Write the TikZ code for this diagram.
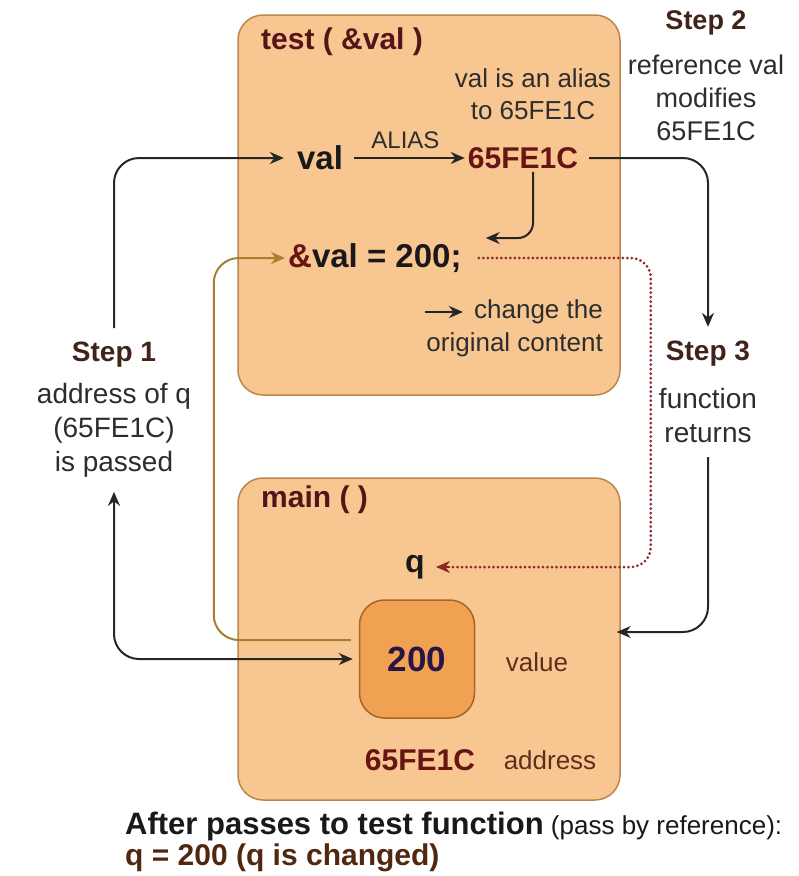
\documentclass[tikz,border=0pt]{standalone}
\usepackage{fontspec}
\setmainfont{Liberation Sans}
\usepackage{xcolor}
\usetikzlibrary{positioning,calc,arrows.meta}

\definecolor{boxfill}{RGB}{248,199,145}
\definecolor{boxline}{RGB}{185,135,75}
\definecolor{cellfill}{RGB}{240,162,82}
\definecolor{cellline}{RGB}{165,100,40}
\definecolor{titlered}{RGB}{85,20,25}
\definecolor{addrred}{RGB}{105,20,20}
\definecolor{stepbrown}{RGB}{65,35,25}
\definecolor{notegray}{RGB}{45,45,45}
\definecolor{goldline}{RGB}{165,128,45}
\definecolor{dotred}{RGB}{140,40,40}
\definecolor{numblue}{RGB}{40,20,70}
\definecolor{labbrown}{RGB}{95,45,30}
\definecolor{qbrown}{RGB}{80,40,15}

\newcommand{\txtsize}[2]{\fontsize{#1}{#2}\selectfont}
\newcommand{\steptitle}[1]{{\bfseries\color{stepbrown}#1}}

\begin{document}
\begin{tikzpicture}[x=1pt,y=-1pt,
  >={Stealth[length=14pt,width=12pt]},
  funcbox/.style={draw=boxline,fill=boxfill,line width=1.5pt,rounded corners=25pt,minimum width=382pt,inner sep=0pt},
  cellbox/.style={draw=cellline,fill=cellfill,line width=1.5pt,rounded corners=25pt,minimum width=115pt,minimum height=118pt,
    text=numblue,font=\bfseries\txtsize{35}{40}},
  boxtitle/.style={text=titlered,font=\bfseries\txtsize{30}{36},inner sep=3pt},
  code/.style={text=black!90,font=\bfseries\txtsize{33}{40},inner sep=3pt},
  note/.style={text=notegray,font=\txtsize{26}{32},inner sep=3pt},
  stepnote/.style={text=notegray,font=\txtsize{28}{34},align=center,inner xsep=3pt,inner ysep=14pt},
  conn/.style={->,draw=black!85,line width=2pt,rounded corners=25pt},
  goldconn/.style={conn,draw=goldline,color=goldline},
  dotconn/.style={draw=dotred,line width=3pt,line cap=round,dash pattern=on 0pt off 4.5pt,rounded corners=20pt}]
\useasboundingbox (0,0) rectangle (799,876);

%function boxes
\node[funcbox,minimum height=380pt] (testbox) at (429,205) {};
\node[funcbox,minimum height=322pt] (mainbox) at (429,639) {};
\node[boxtitle,anchor=west] (testtitle) at (258,42) {test ( \&val )};
\node[boxtitle,anchor=west] (maintitle) at (258,500) {main ( )};

%inside test
\node[note,align=center] (aliasnote) at (533,94) {val is an alias\\to 65FE1C};
\node[code] (val) at (320,158) {val};
\node[code,text=addrred,font=\bfseries\txtsize{30}{36}] (addr) at (523,158) {65FE1C};
\draw[conn,shorten <=8pt] (val) -- node[note,above,yshift=5pt,font=\txtsize{24}{28}] (aliaslbl) {ALIAS} (addr);
\node[code,anchor=west] (assign) at (285,258) {\textcolor{addrred}{\&}val = 200;};
\draw[conn,rounded corners=15pt] ([xshift=10pt]addr.south) |- ([xshift=21pt,yshift=20pt]assign.east);
\node[note,anchor=east] (chg) at (606,312) {change the};
\node[note,anchor=east] (orig) at (606,345) {original content};
\coordinate (chgtail) at (425,312);
\draw[conn,shorten >=8pt] (chgtail) -- (chg.west);

%inside main
\node[code,font=\bfseries\txtsize{32}{38}] (q) at (415,567) {q};
\node[cellbox] (valbox) at (417,659) {200};
\node[note,text=labbrown] (valuelbl) at (537,662) {value};
\node[code,text=addrred,font=\bfseries\txtsize{30}{36}] (addr2) at (420,760) {65FE1C};
\node[note,text=labbrown] (addrlbl) at (550,760) {address};

%steps
\node[stepnote] (step1) at (114,410) {\steptitle{Step 1}\\[8pt]address of q\\(65FE1C)\\is passed};
\node[stepnote,font=\txtsize{27}{33}] (step2) at (706,76) {\steptitle{Step 2}\\[12pt]reference val\\modifies\\65FE1C};
\node[stepnote] (step3) at (708,392) {\steptitle{Step 3}\\[14pt]function\\returns};

%connectors
\draw[conn,shorten >=10pt] (step1.north) |- (val.west);
\draw[conn,<->,shorten >=6pt] (step1.south) |- (valbox.west);
\draw[goldconn,shorten <=8pt] ([yshift=19pt]valbox.west) -- ++(-145,0) |- (assign.west);
\draw[conn,shorten <=8pt] (addr.east) -| (step3.north);
\draw[conn,shorten >=-4pt] (step3.south) |- ([yshift=7pt]mainbox.east);
\draw[dotconn] ([xshift=14pt]assign.east) -- ++(172,0) |- ([xshift=22pt]q.east);
\draw[-{Stealth[length=14pt,width=12pt]},dotred,line width=2pt] ([xshift=22pt]q.east) -- ([xshift=8pt]q.east);

%bottom text
\node[anchor=west,inner sep=0pt,text=black!90] (after) at (125,826) {{\bfseries\txtsize{31}{36}After passes to test function}\txtsize{26}{32}\ (pass by reference):};
\node[anchor=west,inner sep=0pt,text=qbrown,font=\bfseries\txtsize{30}{36}] (result) at (125,858) {q = 200 (q is changed)};
\end{tikzpicture}
\end{document}
